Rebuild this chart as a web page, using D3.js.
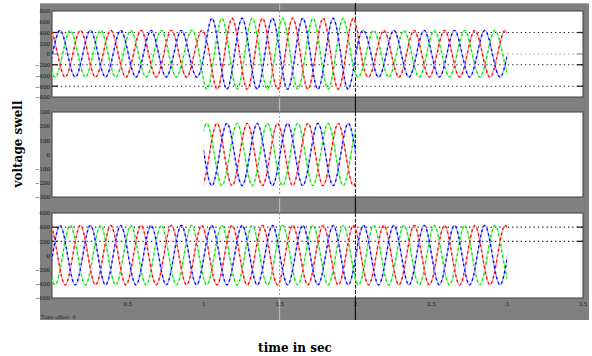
<!DOCTYPE html>
<html>
<head>
<meta charset="utf-8">
<script src="https://cdn.jsdelivr.net/npm/d3@7"></script>
<style>
  body { margin: 0; background: #fff; }
  svg { display: block; }
</style>
</head>
<body>
<figure id="scope" style="margin:0"></figure>
<script>
// time axis (scope units), labels under the last panel
const timeTicks = [0.5, 1, 1.5, 2, 2.5, 3, 3.5];
const timeTickLabels = ["0.5", "1", "1.5", "2", "2.5", "3", "3.5"];
const markerTimes = [1.5, 2];

// spacing between successive peaks, and time of first extreme of each phase
const halfPeriod = 0.1;
const phaseStart = { a: -0.113, b: -0.047, c: 0.020 };
const injectStart = { a: 0.987, b: 0.953, c: 0.920 };

// panel 1: source voltage with swell between t=1 and t=2 (peak values read per half cycle)
const sourceA = [-430,440,-430,440,-430,440,-430,440,-430,440,-430,440,
  -655,665,-655,665,-655,665,-655,665,-655,665,
  -430,440,-430,440,-430,440,-430,440,-430,440,-430];
const sourceB = [-430,440,-430,440,-430,440,-430,440,-430,440,-430,
  665,-655,665,-655,665,-655,665,-655,665,-655,
  440,-430,440,-430,440,-430,440,-430,440,-430,440];
const sourceC = [-430,440,-430,440,-430,440,-430,440,-430,440,
  -655,665,-655,665,-655,665,-655,665,-655,665,
  -430,440,-430,440,-430,440,-430,440,-430,440,-430];

// panel 2: injected voltage
const injectA = [-220,220,-220,220,-220,220,-220,220,-220,220,-220,220];
const injectB = [220,-220,220,-220,220,-220,220,-220,220,-220,220,-220];
const injectC = [-220,220,-220,220,-220,220,-220,220,-220,220,-220,220];

// panel 3: load voltage
const loadA = [-415,425,-415,425,-415,425,-415,425,-415,425,-415,425,-415,425,-415,425,
  -415,425,-415,425,-415,425,-415,425,-415,425,-415,425,-415,425,-415,425,-415];
const loadB = [-415,425,-415,425,-415,425,-415,425,-415,425,-415,425,-415,425,-415,425,
  -415,425,-415,425,-415,425,-415,425,-415,425,-415,425,-415,425,-415,425];
const loadC = [-415,425,-415,425,-415,425,-415,425,-415,425,-415,425,-415,425,-415,425,
  -415,425,-415,425,-415,425,-415,425,-415,425,-415,425,-415,425,-415];

const sourceTicks = [800, 600, 400, 200, 0, -200, -400, -600, -800];
const injectTicks = [300, 200, 100, 0, -100, -200, -300];
const loadTicks = [600, 400, 200, 0, -200, -400, -600];
const sourceGrid = [400, 0, -200, -600];
const loadGrid = [400, 200];

const phaseColors = {
  a: { dark: "#ff0000", light: "#ff9c9c" },
  b: { dark: "#0000ff", light: "#a0a0ff" },
  c: { dark: "#00e600", light: "#9cf59c" }
};

const panels = [
  { top: 11, bottom: 97, domain: [-800, 800], ticks: sourceTicks, grid: sourceGrid,
    span: [0, 3], start: phaseStart, series: { c: sourceC, a: sourceA, b: sourceB } },
  { top: 112, bottom: 197, domain: [-300, 300], ticks: injectTicks, grid: [],
    span: [1, 2], start: injectStart, series: { c: injectC, a: injectA, b: injectB } },
  { top: 213, bottom: 298, domain: [-600, 600], ticks: loadTicks, grid: loadGrid,
    span: [0, 3], start: phaseStart, series: { c: loadC, a: loadA, b: loadB } }
];

function toPoints(t0, peaks) {
  let pts = [[t0 - halfPeriod / 2, 0]];
  peaks.forEach((v, k) => {
    const t = t0 + k * halfPeriod;
    pts.push([t, v]);
    pts.push([t + halfPeriod / 2, 0]);
  });
  return pts;
}

function drawScope() {
  const width = 592, height = 356;
  const svg = d3.select("figure#scope").append("svg")
    .attr("width", width).attr("height", height);

  svg.append("rect").attr("x", 40).attr("y", 3).attr("width", 549).attr("height", 317)
    .attr("fill", "#808080");
  svg.append("line").attr("x1", 40).attr("x2", 589).attr("y1", 3.5).attr("y2", 3.5)
    .attr("stroke", "#a8a8a8");

  const x = d3.scaleLinear().domain([0, 3.5]).range([52, 583]);

  // marker lines running through the grey frame
  svg.append("line").attr("x1", x(1.5)).attr("x2", x(1.5)).attr("y1", 3).attr("y2", 320)
    .attr("stroke", "#b8b8b8").attr("stroke-width", 1.2);
  svg.append("line").attr("x1", x(2)).attr("x2", x(2)).attr("y1", 3).attr("y2", 320)
    .attr("stroke", "#111").attr("stroke-width", 1.2);

  panels.forEach((p, i) => {
    const y = d3.scaleLinear().domain(p.domain).range([p.bottom, p.top]);
    const g = svg.append("g");

    g.append("rect")
      .attr("x", x(0)).attr("y", p.top)
      .attr("width", x(3.5) - x(0)).attr("height", p.bottom - p.top)
      .attr("fill", "#fff").attr("stroke", "#3c3c3c").attr("stroke-width", 1);

    p.grid.forEach(v => {
      const c = v === 0 ? "#9a9a9a" : "#222";
      g.append("line").attr("x1", x(0)).attr("x2", x(3.5)).attr("y1", y(v)).attr("y2", y(v))
        .attr("stroke", c).attr("stroke-width", 1.1).attr("stroke-dasharray", "1.3,3");
      g.append("line").attr("x1", x(0)).attr("x2", x(0) + 6).attr("y1", y(v)).attr("y2", y(v))
        .attr("stroke", c).attr("stroke-width", 1.3);
      g.append("line").attr("x1", x(3.5) - 6).attr("x2", x(3.5)).attr("y1", y(v)).attr("y2", y(v))
        .attr("stroke", c).attr("stroke-width", 1.3);
    });

    g.append("line").attr("x1", x(1.5)).attr("x2", x(1.5)).attr("y1", p.top).attr("y2", p.bottom)
      .attr("stroke", "#9a9a9a").attr("stroke-dasharray", "2,2");
    g.append("line").attr("x1", x(2)).attr("x2", x(2)).attr("y1", p.top).attr("y2", p.bottom)
      .attr("stroke", "#111").attr("stroke-dasharray", "4,1.5");

    const yAxis = g.append("g")
      .attr("transform", "translate(" + x(0) + ",0)")
      .call(d3.axisLeft(y).tickValues(p.ticks).tickSize(0).tickPadding(2));
    yAxis.select(".domain").remove();
    yAxis.selectAll("text")
      .style("font-family", "DejaVu Serif").style("font-size", "5.5px").attr("fill", "#111");

    const clipId = "clip" + i;
    svg.append("clipPath").attr("id", clipId).append("rect")
      .attr("x", x(p.span[0])).attr("y", p.top - 4)
      .attr("width", x(p.span[1]) - x(p.span[0])).attr("height", p.bottom - p.top + 8);

    const line = d3.line()
      .x(d => x(d[0])).y(d => y(d[1]))
      .curve(d3.curveNatural);

    const waves = g.append("g").attr("clip-path", "url(#" + clipId + ")");
    Object.keys(p.series).forEach(ph => {
      const pts = toPoints(p.start[ph], p.series[ph]);
      waves.append("path").datum(pts).attr("d", line)
        .attr("fill", "none").attr("stroke", phaseColors[ph].light).attr("stroke-width", 1.3);
      waves.append("path").datum(pts).attr("d", line)
        .attr("fill", "none").attr("stroke", phaseColors[ph].dark).attr("stroke-width", 1.3)
        .attr("stroke-dasharray", "2.5,3");
    });
  });

  svg.append("g").selectAll("text")
    .data(timeTicks)
    .enter()
    .append("text")
    .attr("x", d => x(d))
    .attr("y", 306)
    .attr("text-anchor", "middle")
    .style("font-family", "DejaVu Serif").style("font-size", "5.5px")
    .attr("fill", "#111")
    .text((d, i) => timeTickLabels[i]);

  svg.append("text").attr("x", 41).attr("y", 319)
    .style("font-family", "DejaVu Serif").style("font-size", "5px").attr("fill", "#222")
    .text("Time offset:  0");

  svg.append("text")
    .attr("transform", "translate(22,144)rotate(-90)")
    .attr("text-anchor", "middle")
    .style("font-family", "DejaVu Serif").style("font-weight", "bold").style("font-size", "12px")
    .text("voltage swell");

  svg.append("text")
    .attr("x", 295).attr("y", 352)
    .attr("text-anchor", "middle")
    .style("font-family", "DejaVu Serif").style("font-weight", "bold").style("font-size", "12px")
    .text("time in sec");
}

drawScope();
</script>
</body>
</html>
